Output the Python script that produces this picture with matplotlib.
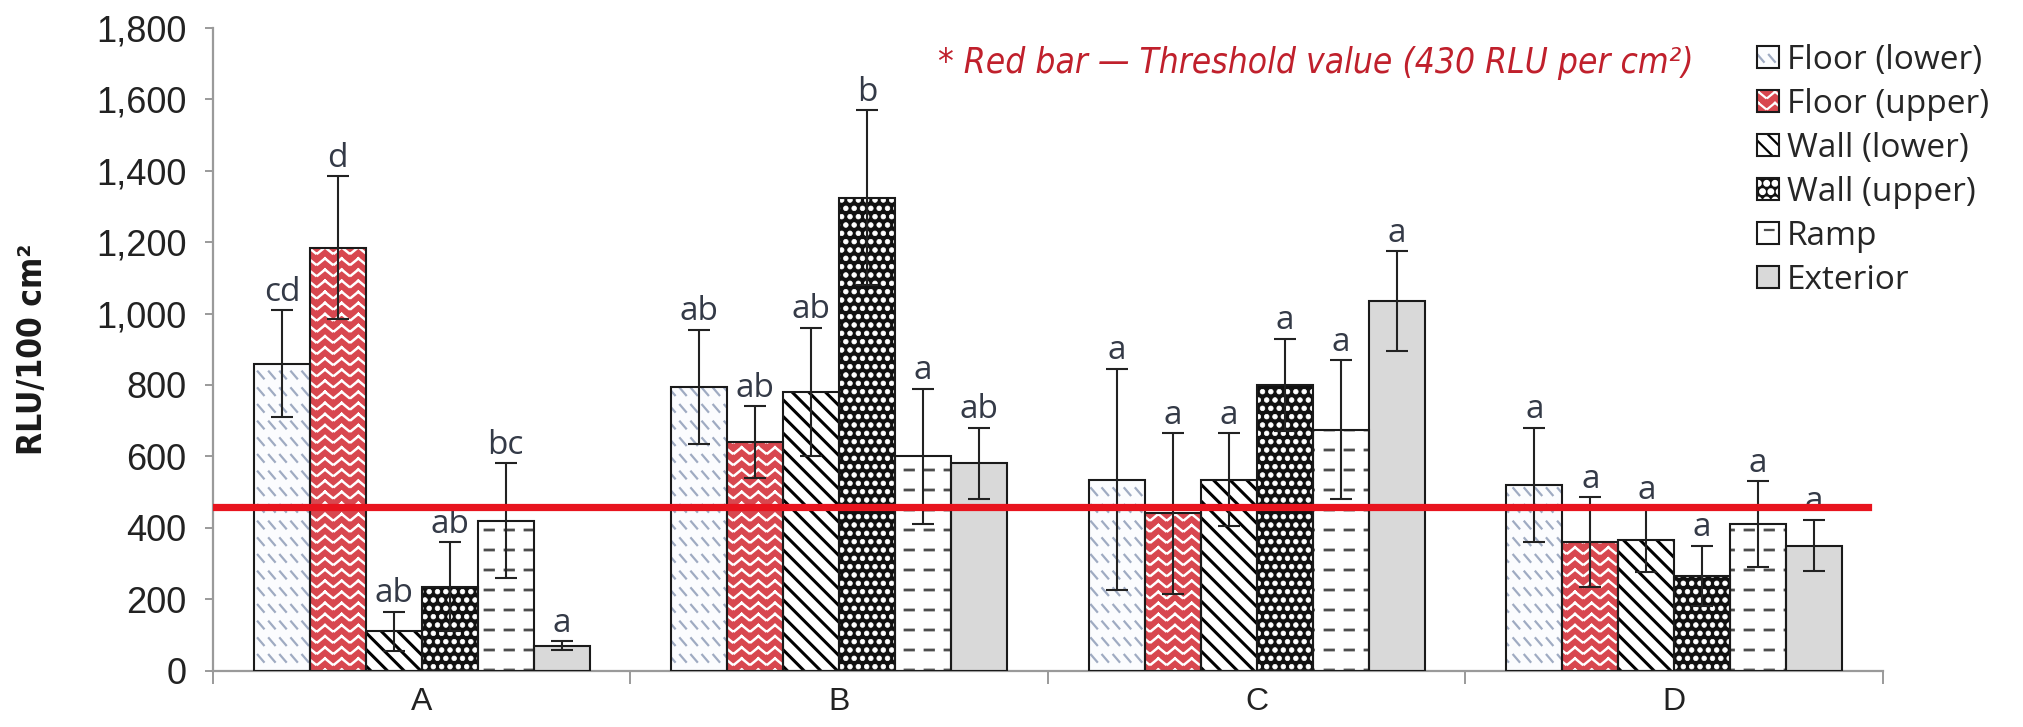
import numpy as np
import matplotlib
matplotlib.use('Agg')
import matplotlib.pyplot as plt
import matplotlib.hatch as mhatch
from matplotlib.path import Path
from matplotlib.patches import Patch
from matplotlib.legend_handler import HandlerTuple
from matplotlib import font_manager as fm
from matplotlib.font_manager import FontProperties
from matplotlib.ticker import FuncFormatter, FixedLocator

# ---------------- data ----------------
categories = ['A', 'B', 'C', 'D']
series = ['Floor (lower)', 'Floor (upper)', 'Wall (lower)', 'Wall (upper)', 'Ramp', 'Exterior']

floor_lower = [860, 795, 535, 520]
floor_upper = [1185, 640, 440, 360]
wall_lower = [110, 780, 535, 365]
wall_upper = [235, 1325, 800, 265]
ramp = [420, 600, 675, 410]
exterior = [70, 580, 1035, 350]

floor_lower_err = [150, 160, 310, 160]
floor_upper_err = [200, 100, 225, 125]
wall_lower_err = [55, 180, 130, 90]
wall_upper_err = [125, 245, 130, 85]
ramp_err = [160, 190, 195, 120]
exterior_err = [12, 100, 140, 72]

floor_lower_sig = ['cd', 'ab', 'a', 'a']
floor_upper_sig = ['d', 'ab', 'a', 'a']
wall_lower_sig = ['ab', 'ab', 'a', 'a']
wall_upper_sig = ['ab', 'b', 'a', 'a']
ramp_sig = ['bc', 'a', 'a', 'a']
exterior_sig = ['a', 'ab', 'a', 'a']

threshold = 457
threshold_note = '* Red bar \u2014 Threshold value (430 RLU per cm\u00b2)'
y_label = 'RLU/100 cm\u00b2'
y_ticks = [0, 200, 400, 600, 800, 1000, 1200, 1400, 1600, 1800]

# ---------------- custom hatch patterns ----------------
class SegPattern(mhatch.HatchPatternBase):
    char = None

    def __init__(self, hatch, density):
        self.segs = self.segments() if hatch.count(self.char) > 0 else []
        self.num_vertices = 2 * len(self.segs)

    def segments(self):
        return []

    def set_vertices_and_codes(self, vertices, codes):
        for k, (x0, y0, x1, y1) in enumerate(self.segs):
            vertices[2 * k] = (x0, y0)
            vertices[2 * k + 1] = (x1, y1)
            codes[2 * k] = Path.MOVETO
            codes[2 * k + 1] = Path.LINETO


class DashRows(SegPattern):          # 'O' -> rows of short horizontal dashes
    char = 'O'

    def segments(self):
        segs = []
        rows, per = 5, 5
        for i in range(rows):
            y = (i + 0.5) / rows
            for j in range(per):
                x0 = (j + 0.25) / per
                segs.append((x0, y, x0 + 0.085, y))
        return segs


class DiagDashes(SegPattern):        # '.' -> short broken backslash strokes
    char = '.'

    def segments(self):
        segs = []
        rows, per = 6, 9
        for i in range(rows):
            y = (i + 0.5) / rows
            for j in range(per):
                x = (j + 0.2) / per
                segs.append((x, y + 0.035, x + 0.06, y - 0.035))
        return segs


class Herring(SegPattern):           # '*' -> chevron / herringbone
    char = '*'

    def segments(self):
        segs = []
        rows, per = 9, 6
        for i in range(rows):
            y = (i + 0.2) / rows
            for j in range(per):
                x = j / per
                w = 1.0 / per
                segs.append((x + 0.06 * w, y, x + 0.5 * w, y + 0.06))
                segs.append((x + 0.5 * w, y + 0.06, x + 0.94 * w, y))
        return segs


class BigDots(mhatch.Circles):       # 'o' -> filled dots
    size = 0.28
    filled = True

    def __init__(self, hatch, density):
        self.num_rows = hatch.count('o') * density
        super().__init__(hatch, density)


mhatch._hatch_types[:] = [t for t in mhatch._hatch_types
                          if t not in (mhatch.SmallCircles, mhatch.LargeCircles,
                                       mhatch.SmallFilledCircles, mhatch.Stars)]
mhatch._hatch_types.extend([DashRows, DiagDashes, Herring, BigDots])

# ---------------- fonts ----------------
avail = {f.name for f in fm.fontManager.ttflist}
SANS = 'Liberation Sans'
LABEL = 'Open Sans' if 'Open Sans' in avail else 'DejaVu Sans'


def weight_num(w):
    if isinstance(w, (int, float)):
        return int(w)
    return {'thin': 100, 'light': 300, 'normal': 400, 'regular': 400, 'book': 400,
            'medium': 500, 'semibold': 600, 'demibold': 600, 'bold': 700,
            'heavy': 800, 'extra bold': 800, 'black': 900}.get(str(w).lower(), 400)


def narrow_font(bold, italic, size):
    best = None
    for f in fm.fontManager.ttflist:
        nm = f.name.lower()
        is_narrow = ('narrow' in nm or 'condensed' in nm or
                     str(f.stretch) in ('condensed', 'semi-condensed', 'extra-condensed'))
        if not is_narrow:
            continue
        b = weight_num(f.weight) >= 600
        it = f.style in ('italic', 'oblique')
        score = (b != bold) * 2 + (it != italic)
        if best is None or score < best[0]:
            best = (score, f.fname)
    if best is not None and best[0] == 0:
        return FontProperties(fname=best[1], size=size)
    return FontProperties(family=[SANS, 'DejaVu Sans'],
                          weight='bold' if bold else 'normal',
                          style='italic' if italic else 'normal', size=size)


plt.rcParams['font.family'] = [SANS, 'DejaVu Sans']
plt.rcParams['hatch.linewidth'] = 1.6

# ---------------- figure ----------------
W, H = 2024, 727
fig = plt.figure(figsize=(W / 100, H / 100), dpi=100)
ax_left, ax_right, ax_bottom, ax_top = 213, 1883, 670.5, 28
ax = fig.add_axes([ax_left / W, 1 - ax_bottom / H,
                   (ax_right - ax_left) / W, (ax_bottom - ax_top) / H])

values = [floor_lower, floor_upper, wall_lower, wall_upper, ramp, exterior]
errors = [floor_lower_err, floor_upper_err, wall_lower_err, wall_upper_err, ramp_err, exterior_err]
sigs = [floor_lower_sig, floor_upper_sig, wall_lower_sig, wall_upper_sig, ramp_sig, exterior_sig]

styles = [
    dict(face='#fbfcfe', hatch='.', hcol='#9fabc2', hlw=1.6),
    dict(face='#d8474f', hatch='*', hcol='white', hlw=1.8),
    dict(face='white', hatch='\\\\', hcol='black', hlw=2.2),
    dict(face='#111111', hatch='oo', hcol='white', hlw=0.5),
    dict(face='white', hatch='O', hcol='#4d4d4d', hlw=2.0),
    dict(face='#d9d9d9', hatch=None, hcol='#d9d9d9', hlw=1.0),
]

x = np.arange(len(categories))
n = len(series)
bw = 0.134
legend_handles = []
for i, (vals, errs, sg, st) in enumerate(zip(values, errors, sigs, styles)):
    pos = x + (i - (n - 1) / 2) * bw
    fill = ax.bar(pos, vals, bw, color=st['face'], edgecolor=st['hcol'],
                  linewidth=0, hatch=st['hatch'], zorder=2)
    for p in fill.patches:
        if hasattr(p, 'set_hatch_linewidth'):
            p.set_hatch_linewidth(st['hlw'])
    ax.bar(pos, vals, bw, fill=False, edgecolor='#1a1a1a', linewidth=1.5, zorder=3)
    ax.errorbar(pos, vals, yerr=errs, fmt='none', ecolor='#222222',
                elinewidth=1.5, capsize=8, capthick=1.5, zorder=4)
    for xp, v, e, s in zip(pos, vals, errs, sg):
        ax.annotate(s, (xp, v + e), xytext=(0, 1), textcoords='offset points',
                    ha='center', va='bottom', fontsize=24, color='#343a47',
                    family=[LABEL, 'DejaVu Sans'], zorder=5)
    h1 = Patch(facecolor=st['face'], edgecolor=st['hcol'], linewidth=0, hatch=st['hatch'])
    if hasattr(h1, 'set_hatch_linewidth'):
        h1.set_hatch_linewidth(st['hlw'])
    h2 = Patch(facecolor='none', edgecolor='#1a1a1a', linewidth=1.5)
    legend_handles.append((h1, h2))

ax.axhline(threshold, color='#e8141e', linewidth=5.2, zorder=6,
           xmin=0.001, xmax=(1868 - ax_left) / (ax_right - ax_left))

ax.set_xlim(-0.5, len(categories) - 0.5)
ax.set_ylim(0, 1800)
ax.set_yticks(y_ticks)
ax.yaxis.set_major_formatter(FuncFormatter(lambda v, p: f'{int(v):,}'))
ax.set_xticks(x)
ax.set_xticklabels(categories)
ax.xaxis.set_minor_locator(FixedLocator(np.arange(-0.5, len(categories), 1.0)))

for sp in ['top', 'right']:
    ax.spines[sp].set_visible(False)
for sp in ['left', 'bottom']:
    ax.spines[sp].set_color('#9a9a9a')
    ax.spines[sp].set_linewidth(1.6)

ax.tick_params(axis='y', direction='out', length=6, width=1.4, color='#9a9a9a',
               pad=13, labelsize=26, labelcolor='#222222')
ax.tick_params(axis='x', which='major', length=0, pad=12, labelsize=23, labelcolor='#222222')
ax.tick_params(axis='x', which='minor', direction='out', length=9, width=1.4, color='#9a9a9a')

ylab = ax.set_ylabel(y_label, fontproperties=narrow_font(True, False, 28), color='#1a1a1a')
ylab.set_va('center')
ax.yaxis.set_label_coords((33 - ax_left) / (ax_right - ax_left), 0.5)

note = fig.text(1316 / W, 1 - 63 / H, threshold_note, ha='center', va='center',
                fontproperties=narrow_font(False, True, 26), color='#c0202c')

leg = fig.legend(legend_handles, series, loc='upper left',
                 bbox_to_anchor=(1757 / W, 1 - 44 / H),
                 handler_map={tuple: HandlerTuple(ndivide=1)},
                 frameon=False, handlelength=0.65, handleheight=0.65,
                 handletextpad=0.25, labelspacing=0.33, borderpad=0, borderaxespad=0,
                 prop={'family': [LABEL, 'DejaVu Sans'], 'size': 24})
for t in leg.get_texts():
    t.set_color('#262626')

# fit the two narrow-font texts to the lengths they have in the reference
fig.canvas.draw()
r = fig.canvas.get_renderer()
for txt, target, vertical in [(ylab, 212, True), (note, 756, False)]:
    bb = txt.get_window_extent(r)
    cur = bb.height if vertical else bb.width
    if cur > 0:
        txt.set_fontsize(txt.get_fontsize() * target / cur)

fig.savefig('out.png', dpi=100)
